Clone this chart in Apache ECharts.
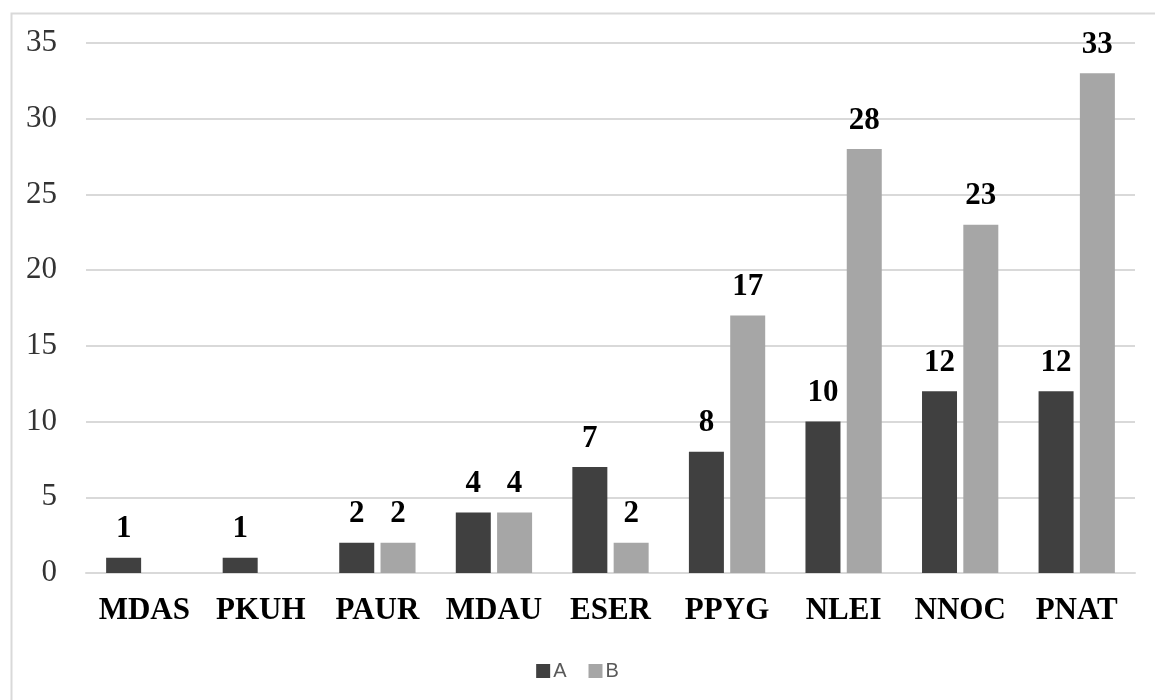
<!DOCTYPE html>
<html>
<head>
<meta charset="utf-8">
<script src="https://cdn.jsdelivr.net/npm/echarts@6/dist/echarts.min.js"></script>
<style>
html,body{margin:0;padding:0;background:#fff;}
#chart{width:1155px;height:700px;}
</style>
</head>
<body>
<div id="chart"></div>
<script>
const categories = ['MDAS','PKUH','PAUR','MDAU','ESER','PPYG','NLEI','NNOC','PNAT'];
const seriesA = [1,1,2,4,7,8,10,12,12];
const seriesB = [null,null,2,4,2,17,28,23,33];
const yTicks = {min:0, max:35, interval:5};

const chart = echarts.init(document.getElementById('chart'));
const labelStyle = {
  show: true, position: 'top', distance: 13,
  fontFamily: '"Liberation Serif","Times New Roman",serif',
  fontWeight: 'bold', fontSize: 31, color: '#000'
};
chart.setOption({
  animation: false,
  backgroundColor: '#fff',
  graphic: [{
    type: 'rect', left: 9, top: 11,
    shape: {width: 1160, height: 700},
    style: {fill: 'none', stroke: '#d9d9d9', lineWidth: 2},
    silent: true
  }],
  grid: {left: 86, right: 20, top: 43, bottom: 127, containLabel: false},
  legend: {
    top: 656, left: 'center',
    itemWidth: 14, itemHeight: 14, itemGap: 22,
    icon: 'rect',
    textStyle: {fontFamily: '"Liberation Sans",Arial,sans-serif', fontSize: 20, color: '#595959', padding: [0,0,0,-2]},
    data: ['A','B']
  },
  xAxis: {
    type: 'category', data: categories,
    axisLine: {show: true, lineStyle: {color: '#d9d9d9', width: 2}},
    axisTick: {show: false},
    axisLabel: {
      interval: 0,
      margin: 22,
      fontFamily: '"Liberation Serif","Times New Roman",serif',
      fontWeight: 'bold', fontSize: 31, color: '#000'
    }
  },
  yAxis: {
    type: 'value', min: yTicks.min, max: yTicks.max, interval: yTicks.interval,
    axisLine: {show: false}, axisTick: {show: false},
    splitLine: {lineStyle: {color: '#d9d9d9', width: 2}},
    axisLabel: {
      margin: 29,
      fontFamily: '"Liberation Serif","Times New Roman",serif',
      fontSize: 31, color: '#333'
    }
  },
  series: [
    {name: 'A', type: 'bar', data: seriesA, barWidth: 35, barGap: '18%', barCategoryGap: '35%',
     itemStyle: {color: '#404040'}, label: labelStyle},
    {name: 'B', type: 'bar', data: seriesB, barWidth: 35,
     itemStyle: {color: '#a6a6a6'}, label: labelStyle}
  ]
});
</script>
</body>
</html>
